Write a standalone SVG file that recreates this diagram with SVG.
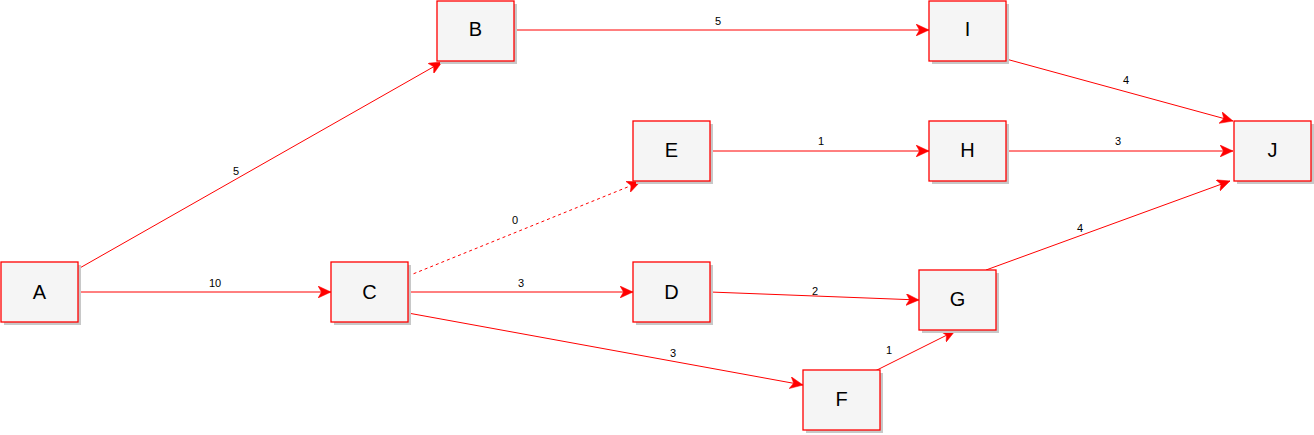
<svg xmlns="http://www.w3.org/2000/svg" width="1314" height="435" viewBox="0 0 1314 435">
<style>
.box{fill:#f5f5f5;stroke:#ff0000;stroke-width:1.3}
.sh{fill:#c8c8c8}
.nt{font-family:"Liberation Sans",Arial,sans-serif;font-size:20px;fill:#000;text-anchor:middle;dominant-baseline:central}
.e{fill:none;stroke:#ff0000;stroke-width:1;marker-end:url(#arr)}
.d{stroke-dasharray:3 3}
.lb{font-family:"Liberation Sans",Arial,sans-serif;font-size:11px;fill:#000;text-anchor:middle;dominant-baseline:central}
</style>
<defs>
<marker id="arr" markerUnits="userSpaceOnUse" markerWidth="14" markerHeight="12" viewBox="0 0 14 12" refX="13" refY="6" orient="auto">
<path d="M0,0 L13,6 L0,12 L3.5,6 Z" fill="#ff0000" stroke="#ff0000" stroke-width="0.5"/>
</marker>
</defs>
<rect width="1314" height="435" fill="#ffffff"/>
<g id="connectors">
<path class="e" d="M78,269 L442,62"/>
<text class="lb" x="236" y="171">5</text>
<path class="e" d="M78,292 L331,292"/>
<text class="lb" x="215" y="283">10</text>
<path class="e d" d="M408,276 L640,182"/>
<text class="lb" x="515" y="220">0</text>
<path class="e" d="M408,292 L633,292"/>
<text class="lb" x="521" y="283">3</text>
<path class="e" d="M408,313 L803,385"/>
<text class="lb" x="673" y="353">3</text>
<path class="e" d="M710,292 L919,300"/>
<text class="lb" x="815" y="291">2</text>
<path class="e" d="M875,371 L955,331"/>
<text class="lb" x="889" y="350">1</text>
<path class="e" d="M710,151 L929,151"/>
<text class="lb" x="821" y="141">1</text>
<path class="e" d="M514,30 L929,30"/>
<text class="lb" x="718" y="21">5</text>
<path class="e" d="M1006,59 L1233,121"/>
<text class="lb" x="1126" y="80">4</text>
<path class="e" d="M1006,151 L1233,151"/>
<text class="lb" x="1118" y="141">3</text>
<path class="e" d="M986,270 L1230,181"/>
<text class="lb" x="1080" y="228">4</text>
</g>
<g id="node-A"><rect class="sh" x="4" y="265" width="77" height="60"/><rect class="box" x="1" y="262" width="77" height="60"/><text class="nt" x="39.5" y="292">A</text></g>
<g id="node-B"><rect class="sh" x="440" y="4" width="77" height="60"/><rect class="box" x="437" y="1" width="77" height="60"/><text class="nt" x="475.5" y="29">B</text></g>
<g id="node-C"><rect class="sh" x="334" y="265" width="77" height="60"/><rect class="box" x="331" y="262" width="77" height="60"/><text class="nt" x="369.5" y="292">C</text></g>
<g id="node-D"><rect class="sh" x="636" y="265" width="77" height="60"/><rect class="box" x="633" y="262" width="77" height="60"/><text class="nt" x="671.5" y="292">D</text></g>
<g id="node-E"><rect class="sh" x="636" y="124" width="77" height="60"/><rect class="box" x="633" y="121" width="77" height="60"/><text class="nt" x="671.5" y="150">E</text></g>
<g id="node-F"><rect class="sh" x="806" y="373" width="77" height="60"/><rect class="box" x="803" y="370" width="77" height="60"/><text class="nt" x="841.5" y="399">F</text></g>
<g id="node-G"><rect class="sh" x="922" y="273" width="77" height="60"/><rect class="box" x="919" y="270" width="77" height="60"/><text class="nt" x="957.5" y="299">G</text></g>
<g id="node-H"><rect class="sh" x="932" y="124" width="77" height="60"/><rect class="box" x="929" y="121" width="77" height="60"/><text class="nt" x="967.5" y="150">H</text></g>
<g id="node-I"><rect class="sh" x="932" y="4" width="77" height="60"/><rect class="box" x="929" y="1" width="77" height="60"/><text class="nt" x="967.5" y="29">I</text></g>
<g id="node-J"><rect class="sh" x="1237" y="124" width="77" height="60"/><rect class="box" x="1234" y="121" width="77" height="60"/><text class="nt" x="1272.5" y="150">J</text></g>
</svg>
